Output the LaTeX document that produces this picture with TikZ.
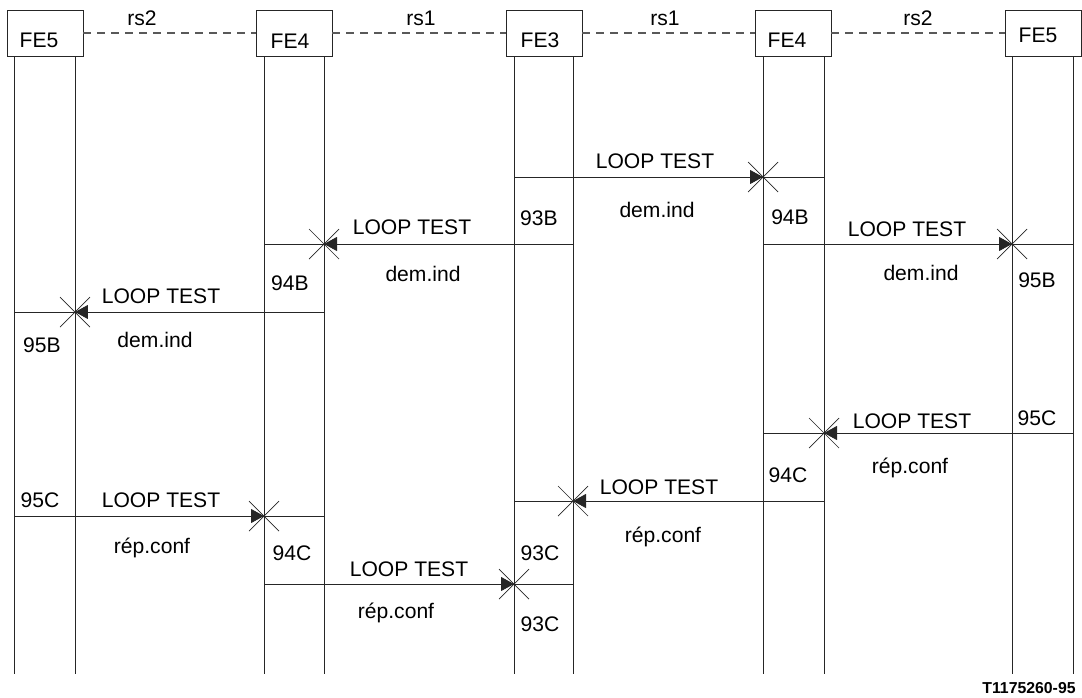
\documentclass[tikz,border=0pt]{standalone}
\usepackage{fontspec}
\setmainfont{Liberation Sans}
\usetikzlibrary{arrows.meta}
\tikzset{
  febox/.style={draw, minimum width=1.52cm, minimum height=0.92cm, inner sep=0pt},
  lien/.style={draw=black!65, line width=0.6pt, dash pattern=on 0.16cm off 0.12cm},
  msgtip/.style={-{Triangle[length=0.26cm, width=0.28cm]}},
  lbl/.style={anchor=base, inner sep=0pt},
}

\begin{document}
\begin{tikzpicture}[x=0.02cm, y=-0.02cm, font=\fontsize{12}{14}\selectfont, line width=0.5pt, draw=black!85]
  \useasboundingbox (0,0) rectangle (1082,697);

  % Entités fonctionnelles
  \foreach \n/\x in {fe5g/45, fe4g/294, fe3/544, fe4d/793, fe5d/1043}
    \node[febox] (\n) at (\x,33) {};
  \foreach \n/\x/\y/\t in {fe5g/39/47/FE5, fe4g/290/48/FE4, fe3/540/47/FE3, fe4d/787/47/FE4, fe5d/1038/42/FE5}
    \node[lbl] (\n-t) at (\x,\y) {\t};

  % Relations rs1 / rs2
  \draw[lien] (fe5g) -- (fe4g);
  \draw[lien] (fe4g) -- (fe3);
  \draw[lien] (fe3) -- (fe4d);
  \draw[lien] (fe4d) -- (fe5d);
  \foreach \n/\x/\t in {rsa/142/rs2, rsb/421/rs1, rsc/665/rs1, rsd/918/rs2}
    \node[lbl] (\n) at (\x,25) {\t};

  % Lignes de vie
  \foreach \c/\x in {l1a/14, l1b/75, l2a/264, l2b/324, l3a/514, l3b/573, l4a/763, l4b/824, l5a/1012, l5b/1073}
    \coordinate (\c) at (\x,674);
  \foreach \c/\b in {l1a/fe5g, l1b/fe5g, l2a/fe4g, l2b/fe4g, l3a/fe3, l3b/fe3, l4a/fe4d, l4b/fe4d, l5a/fe5d, l5b/fe5d}
    \draw (\b.south -| \c) -- (\c);

  % Messages LOOP TEST (départ / pointe / fin)
  \foreach \y/\s/\t/\e in {177/l3a/l4a/l4b, 244/l3b/l2b/l2a, 244/l4a/l5a/l5b, 312/l2b/l1b/l1a,
                           433/l5b/l4b/l4a, 501/l4b/l3b/l3a, 516/l1a/l2a/l2b, 584/l2a/l3a/l3b} {
    \draw (\s |- 0,\y) -- (\e |- 0,\y);
    \draw[msgtip] (\s |- 0,\y) -- (\t |- 0,\y);
    \draw[line width=0.4pt] (\t |- 0,\y) +(-15,-15) -- +(15,15) +(-15,15) -- +(15,-15);
  }

  % Textes des messages
  \foreach \x/\y in {655/168, 412/234, 907/236, 161/303, 912/428, 659/494, 161/507, 409/576}
    \node[lbl] (lt-\x-\y) at (\x,\y) {LOOP TEST};
  \foreach \x/\y/\t in {657/217/dem.ind, 423/281/dem.ind, 921/280/dem.ind, 155/347/dem.ind,
                        910/473/rép.conf, 663/542/rép.conf, 152/553/rép.conf, 396/618/rép.conf}
    \node[lbl] (pr-\x-\y) at (\x,\y) {\t};

  % Repères
  \foreach \x/\y/\t in {539/225/93B, 790/224/94B, 290/290/94B, 1037/287/95B, 42/352/95B,
                        1037/425/95C, 788/482/94C, 540/560/93C, 40/507/95C, 292/560/94C, 540/631/93C}
    \node[lbl] (r-\x-\y) at (\x,\y) {\t};

  \node[lbl, font=\fontsize{9}{10}\selectfont\bfseries] (ref) at (1029,693) {T1175260-95};
\end{tikzpicture}
\end{document}
